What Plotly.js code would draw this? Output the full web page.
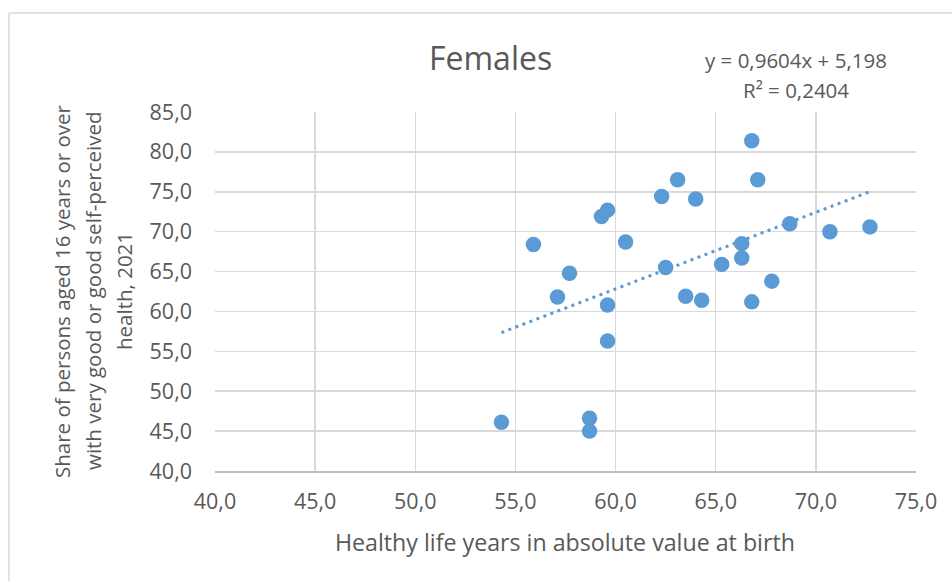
<!DOCTYPE html>
<html>
<head>
<meta charset="utf-8">
<script src="https://cdn.plot.ly/plotly-3.0.1.min.js"></script>
<style>
  html, body { margin: 0; padding: 0; background: #ffffff; }
  #chart { width: 952px; height: 581px; }
</style>
</head>
<body>
<div id="chart"></div>
<script>
// Healthy life years at birth (x) vs share reporting very good / good health (y), females
const healthyLifeYears = [
  66.8, 63.1, 67.1, 62.3, 64.0, 59.6, 59.3, 68.7, 70.7, 72.7,
  55.9, 60.5, 66.3, 66.3, 65.3, 62.5, 57.7, 67.8, 57.1, 63.5,
  64.3, 66.8, 59.6, 59.6, 54.3, 58.7, 58.7
];
const goodHealthShare = [
  81.4, 76.5, 76.5, 74.4, 74.1, 72.7, 71.9, 71.0, 70.0, 70.6,
  68.4, 68.7, 68.5, 66.7, 65.9, 65.5, 64.8, 63.8, 61.8, 61.9,
  61.4, 61.2, 60.8, 56.3, 46.1, 46.6, 45.0
];

// Linear trendline coefficients as printed on the chart
const trendSlope = 0.9604;
const trendIntercept = 5.198;
const trendR2 = 0.2404;

const xTickValues = [40, 45, 50, 55, 60, 65, 70, 75];
const yTickValues = [40, 45, 50, 55, 60, 65, 70, 75, 80, 85];

const chartTitle = 'Females';
const xTitle = 'Healthy life years in absolute value at birth';
const yTitleLines = [
  'Share of persons aged 16 years or over',
  'with very good or good self-perceived',
  'health, 2021'
];

// ---- layout geometry (pixels) ----
const W = 952, H = 581;
const M = { l: 215, r: 36, t: 112, b: 110 };
const plotW = W - M.l - M.r;
const plotH = H - M.t - M.b;
const px = x => (x - M.l) / plotW;
const py = y => 1 - (y - M.t) / plotH;

const fontFamily = '"Open Sans", "DejaVu Sans", sans-serif';
const textColor = '#595959';
const blue = '#5b9bd5';

const fmt = v => v.toFixed(4).replace(/0+$/, '').replace('.', ',');

const xMin = Math.min(...healthyLifeYears);
const xMax = Math.max(...healthyLifeYears);
const trendX = [xMin, xMax];
const trendY = trendX.map(x => trendSlope * x + trendIntercept);

const traces = [
  {
    x: trendX, y: trendY,
    type: 'scatter', mode: 'lines',
    line: { color: blue, width: 3, dash: '3px,4.5px' },
    hoverinfo: 'skip', showlegend: false
  },
  {
    x: healthyLifeYears, y: goodHealthShare,
    type: 'scatter', mode: 'markers',
    marker: { color: blue, size: 15.5, line: { width: 0 } },
    showlegend: false
  }
];

const annotations = [
  {
    text: chartTitle, x: px(490), y: py(57), xref: 'paper', yref: 'paper',
    xanchor: 'center', yanchor: 'middle', showarrow: false,
    font: { family: fontFamily, size: 32, color: textColor }
  },
  {
    text: 'y = ' + fmt(trendSlope) + 'x + ' + fmt(trendIntercept),
    x: px(796), y: py(60), xref: 'paper', yref: 'paper',
    xanchor: 'center', yanchor: 'middle', showarrow: false,
    font: { family: fontFamily, size: 20.5, color: textColor }
  },
  {
    text: 'R² = ' + fmt(trendR2),
    x: px(796), y: py(90), xref: 'paper', yref: 'paper',
    xanchor: 'center', yanchor: 'middle', showarrow: false,
    font: { family: fontFamily, size: 20.5, color: textColor }
  },
  {
    text: xTitle, x: px(565), y: py(542), xref: 'paper', yref: 'paper',
    xanchor: 'center', yanchor: 'middle', showarrow: false,
    font: { family: fontFamily, size: 23.2, color: textColor }
  }
];

const yLineX = [62, 93, 124];
yTitleLines.forEach((line, i) => {
  annotations.push({
    text: line, x: px(yLineX[i]), y: py(291), xref: 'paper', yref: 'paper',
    xanchor: 'center', yanchor: 'middle', textangle: -90, showarrow: false,
    font: { family: fontFamily, size: 20.5, color: textColor }
  });
});

const borderColor = '#d9d9d9';
const shapes = [
  { type: 'line', xref: 'paper', yref: 'paper', x0: px(9), x1: px(W + 5), y0: py(13), y1: py(13),
    line: { color: borderColor, width: 1.5 } },
  { type: 'line', xref: 'paper', yref: 'paper', x0: px(9), x1: px(9), y0: py(13), y1: py(H + 5),
    line: { color: borderColor, width: 1.5 } }
];

const layout = {
  width: W, height: H,
  margin: M,
  paper_bgcolor: '#ffffff',
  plot_bgcolor: '#ffffff',
  separators: ',.',
  showlegend: false,
  hovermode: false,
  xaxis: {
    range: [40, 75], tickvals: xTickValues, tickformat: '.1f',
    showgrid: true, gridcolor: '#d9d9d9', gridwidth: 1.5,
    zeroline: false, showline: true, linecolor: '#bfbfbf', linewidth: 1.5,
    ticks: '', ticklabelstandoff: 11,
    tickfont: { family: fontFamily, size: 21.5, color: textColor }
  },
  yaxis: {
    range: [40, 85], tickvals: yTickValues, tickformat: '.1f',
    showgrid: true, gridcolor: '#d9d9d9', gridwidth: 1.5,
    zeroline: false, showline: false,
    ticks: '', ticklabelstandoff: 22,
    tickfont: { family: fontFamily, size: 21.5, color: textColor }
  },
  annotations: annotations,
  shapes: shapes
};

Plotly.newPlot('chart', traces, layout, { staticPlot: true, displayModeBar: false });
</script>
</body>
</html>
